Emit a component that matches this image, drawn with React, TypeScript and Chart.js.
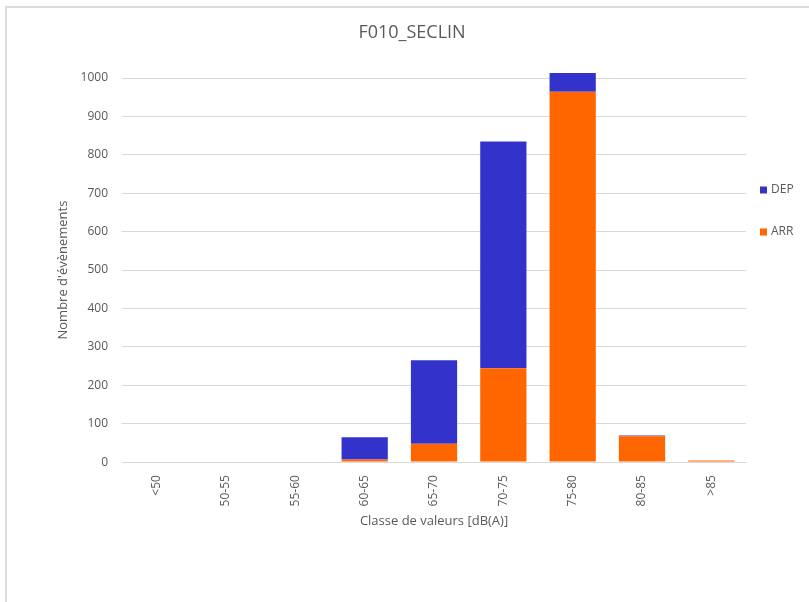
import React, { useEffect, useRef } from "react";
import { Chart, registerables } from "chart.js";

Chart.register(...registerables);

const TITLE = "F010_SECLIN";
const CATEGORIES = ["<50", "50-55", "55-60", "60-65", "65-70", "70-75", "75-80", "80-85", ">85"];
const ARR = [0, 0, 0, 7, 48, 244, 964, 67, 4];
const DEP = [0, 0, 0, 58, 217, 591, 49, 2, 0];
const Y_TITLE = "Nombre d'évènements";
const X_TITLE = "Classe de valeurs [dB(A)]";
const Y_MAX = 1000;
const Y_STEP = 100;

const FONT = "'Open Sans', 'Noto Sans', sans-serif";
const TEXT = "#595959";
const GRID = "#d9d9d9";
const DEP_COLOR = "#3333CC";
const ARR_COLOR = "#FF6600";

const decorPlugin = {
  id: "decor",
  afterDraw(chart: any) {
    const ctx = chart.ctx;
    ctx.save();
    ctx.fillStyle = TEXT;
    ctx.textBaseline = "middle";
    ctx.textAlign = "center";
    ctx.font = `18px ${FONT}`;
    ctx.fillText(TITLE, 412, 33);
    const ds = chart.data.datasets.slice().reverse();
    ctx.font = `12px ${FONT}`;
    ctx.textAlign = "left";
    ds.forEach((d: any, i: number) => {
      const cy = 190 + i * 42;
      ctx.fillStyle = d.backgroundColor;
      ctx.fillRect(760, cy - 3.5, 7, 7);
      ctx.fillStyle = TEXT;
      ctx.fillText(d.label, 771, cy);
    });
    ctx.restore();
  },
};

export default function App() {
  const ref = useRef<HTMLCanvasElement>(null);
  useEffect(() => {
    if (!ref.current) return;
    const chart = new Chart(ref.current, {
      type: "bar",
      data: {
        labels: CATEGORIES,
        datasets: [
          { label: "ARR", data: ARR, backgroundColor: ARR_COLOR, borderWidth: 0, clip: false as any },
          { label: "DEP", data: DEP, backgroundColor: DEP_COLOR, borderWidth: 0, clip: false as any },
        ],
      },
      options: {
        responsive: false,
        maintainAspectRatio: false,
        animation: false,
        devicePixelRatio: 1,
        layout: { padding: { left: -4, right: 63, top: 78, bottom: 0 } },
        datasets: { bar: { barPercentage: 0.667, categoryPercentage: 1 } },
        plugins: {
          legend: { display: false },
          tooltip: { enabled: false },
          title: { display: false },
        },
        scales: {
          x: {
            stacked: true,
            grid: { display: false, drawTicks: false },
            border: { display: true, color: GRID, width: 1 },
            ticks: {
              color: TEXT,
              font: { family: FONT, size: 12 },
              minRotation: 90,
              maxRotation: 90,
              padding: 13,
              autoSkip: false,
            },
            title: {
              display: true,
              text: X_TITLE,
              color: TEXT,
              font: { family: FONT, size: 13 },
              padding: { top: -6, bottom: 73 },
            },
          },
          y: {
            stacked: true,
            min: 0,
            max: Y_MAX,
            grid: { color: GRID, drawTicks: false, lineWidth: 1 },
            border: { display: false },
            ticks: {
              stepSize: Y_STEP,
              color: TEXT,
              font: { family: FONT, size: 12 },
              padding: 14,
              callback: (v: any) => String(v),
            },
            title: {
              display: true,
              text: Y_TITLE,
              color: TEXT,
              font: { family: FONT, size: 13 },
              padding: { top: 59, bottom: -4 },
            },
          },
        },
      },
      plugins: [decorPlugin],
    });
    return () => chart.destroy();
  }, []);

  return (
    <>
      <div
        style={{
          position: "fixed",
          left: 5,
          top: 6,
          right: -20,
          bottom: -20,
          borderLeft: "2px solid #dcdcdc",
          borderTop: "2px solid #dcdcdc",
          background: "#fff",
        }}
      />
      <canvas
        ref={ref}
        width={809}
        height={602}
        style={{ position: "fixed", left: 0, top: 0, width: 809, height: 602 }}
      />
    </>
  );
}
